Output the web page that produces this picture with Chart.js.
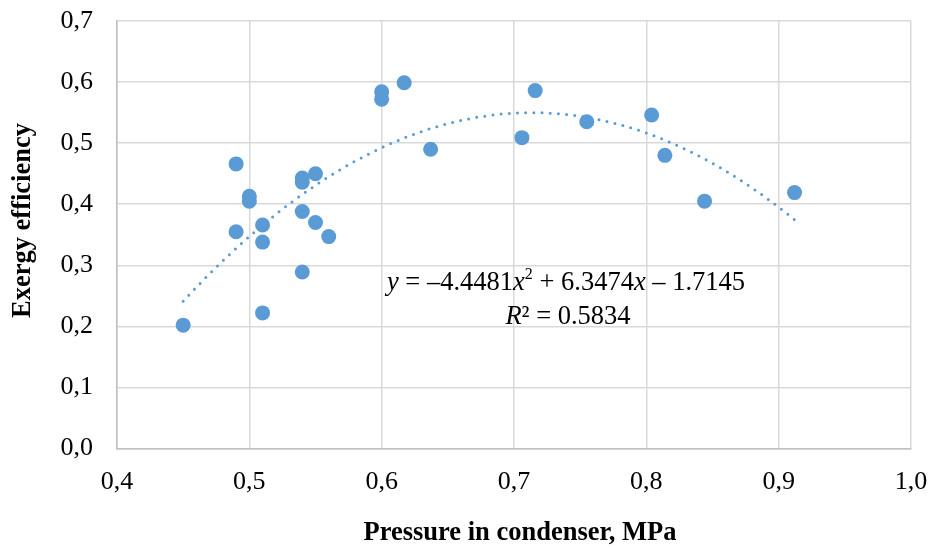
<!DOCTYPE html>
<html>
<head>
<meta charset="utf-8">
<title>Exergy efficiency vs pressure</title>
<script src="https://cdn.jsdelivr.net/npm/chart.js@4"></script>
<style>
  html, body { margin: 0; padding: 0; background: #fff; }
  #wrap { width: 929px; height: 548px; }
</style>
</head>
<body>
<div id="wrap"><canvas id="chScatter" width="929" height="548"></canvas></div>
<script>
// data
var pressure = [0.45, 0.49, 0.49, 0.50, 0.50, 0.51, 0.51, 0.51, 0.54, 0.54, 0.54, 0.54, 0.55,
    0.55, 0.56, 0.60, 0.60, 0.617, 0.637, 0.706, 0.716, 0.755, 0.804, 0.814, 0.844, 0.912];
var efficiency = [0.202, 0.466, 0.355, 0.413, 0.405, 0.366, 0.338, 0.222, 0.443, 0.436, 0.388, 0.289, 0.450,
    0.370, 0.347, 0.584, 0.572, 0.599, 0.490, 0.509, 0.586, 0.535, 0.546, 0.480, 0.405, 0.419];

// trendline as printed on the chart: y = a*x^2 + b*x + c
var trendCoef = [-4.4481, 6.3474, -1.7145];
var trendRange = [0.45, 0.912];
var rSquared = '0.5834';

var xTicks = [0.4, 0.5, 0.6, 0.7, 0.8, 0.9, 1.0];
var yTicks = [0.0, 0.1, 0.2, 0.3, 0.4, 0.5, 0.6, 0.7];

var blue = '#5b9bd5';
var gridColor = '#d9d9d9';
var axisColor = '#bfbfbf';
var serif = "'Liberation Serif', 'Times New Roman', serif";

var points = pressure.map(function (p, i) { return { x: p, y: efficiency[i] }; });

// curve of the printed equation across the data range
var trend = [];
for (var k = 0; k <= 50; k++) {
    var tx = trendRange[0] + (trendRange[1] - trendRange[0]) * k / 50;
    trend.push({ x: tx, y: trendCoef[0] * tx * tx + trendCoef[1] * tx + trendCoef[2] });
}

function comma(v) { return v.toFixed(1).replace('.', ','); }

// draws a row of [text, font, dy] pieces centred on cx
function drawRow(ctx, parts, cx, cy) {
    var total = 0;
    parts.forEach(function (p) { ctx.font = p[1]; total += ctx.measureText(p[0]).width; });
    var x = cx - total / 2;
    parts.forEach(function (p) {
        ctx.font = p[1];
        ctx.fillText(p[0], x, cy + p[2]);
        x += ctx.measureText(p[0]).width;
    });
}

// equation + axis titles drawn on the canvas
var labelsPlugin = {
    id: 'labels',
    afterDraw: function (chart) {
        var ctx = chart.ctx;
        ctx.save();
        ctx.fillStyle = '#000';
        ctx.textBaseline = 'middle';
        ctx.textAlign = 'left';

        var reg = '26.5px ' + serif, ita = 'italic 26.5px ' + serif, sup = '16px ' + serif;
        drawRow(ctx, [
            ['y', ita, 0], [' = \u2013' + '4.4481', reg, 0], ['x', ita, 0], ['2', sup, -8],
            [' + 6.3474', reg, 0], ['x', ita, 0], [' \u2013 1.7145', reg, 0]
        ], 566, 283);
        drawRow(ctx, [['R', ita, 0], ['\u00b2 = ' + rSquared, reg, 0]], 568, 317);

        // axis titles
        ctx.font = 'bold 26.5px ' + serif;
        ctx.textAlign = 'center';
        ctx.fillText('Pressure in condenser, MPa', 520, 533);

        ctx.translate(23, 220.5);
        ctx.rotate(-Math.PI / 2);
        ctx.fillText('Exergy efficiency', 0, 0);
        ctx.restore();
    }
};

new Chart(document.getElementById('chScatter'), {
    type: 'scatter',
    data: {
        datasets: [
            {
                label: 'Trend',
                data: trend,
                showLine: true,
                pointRadius: 0,
                borderColor: blue,
                borderWidth: 3,
                borderDash: [0, 8.2],
                borderCapStyle: 'round',
                fill: false,
                order: 0
            },
            {
                label: 'Exergy efficiency',
                data: points,
                backgroundColor: blue,
                borderWidth: 0,
                pointRadius: 7.5,
                order: 1
            }
        ]
    },
    options: {
        responsive: false,
        animation: false,
        devicePixelRatio: 1,
        layout: { padding: { left: 0, right: 18, top: 21, bottom: 0 } },
        plugins: {
            legend: { display: false },
            tooltip: { enabled: false }
        },
        scales: {
            x: {
                type: 'linear',
                min: 0.4,
                max: 1.0,
                afterBuildTicks: function (s) { s.ticks = xTicks.map(function (v) { return { value: v }; }); },
                afterFit: function (s) { s.height = 99.5; s.paddingLeft = 0; s.paddingRight = 0; },
                ticks: {
                    padding: 18,
                    maxRotation: 0,
                    color: '#000',
                    font: { family: serif, size: 26 },
                    callback: function (v) { return comma(v); }
                },
                grid: { color: gridColor, lineWidth: 1.5, drawTicks: false },
                border: { color: axisColor, width: 1.5 }
            },
            y: {
                min: 0,
                max: 0.7,
                afterBuildTicks: function (s) { s.ticks = yTicks.map(function (v) { return { value: v }; }); },
                afterFit: function (s) { s.width = 117; s.paddingTop = 0; s.paddingBottom = 0; },
                ticks: {
                    padding: 24,
                    color: '#000',
                    font: { family: serif, size: 26 },
                    callback: function (v) { return comma(v); }
                },
                grid: { color: gridColor, lineWidth: 1.5, drawTicks: false },
                border: { color: axisColor, width: 1.5 }
            }
        }
    },
    plugins: [labelsPlugin]
});
</script>
</body>
</html>
